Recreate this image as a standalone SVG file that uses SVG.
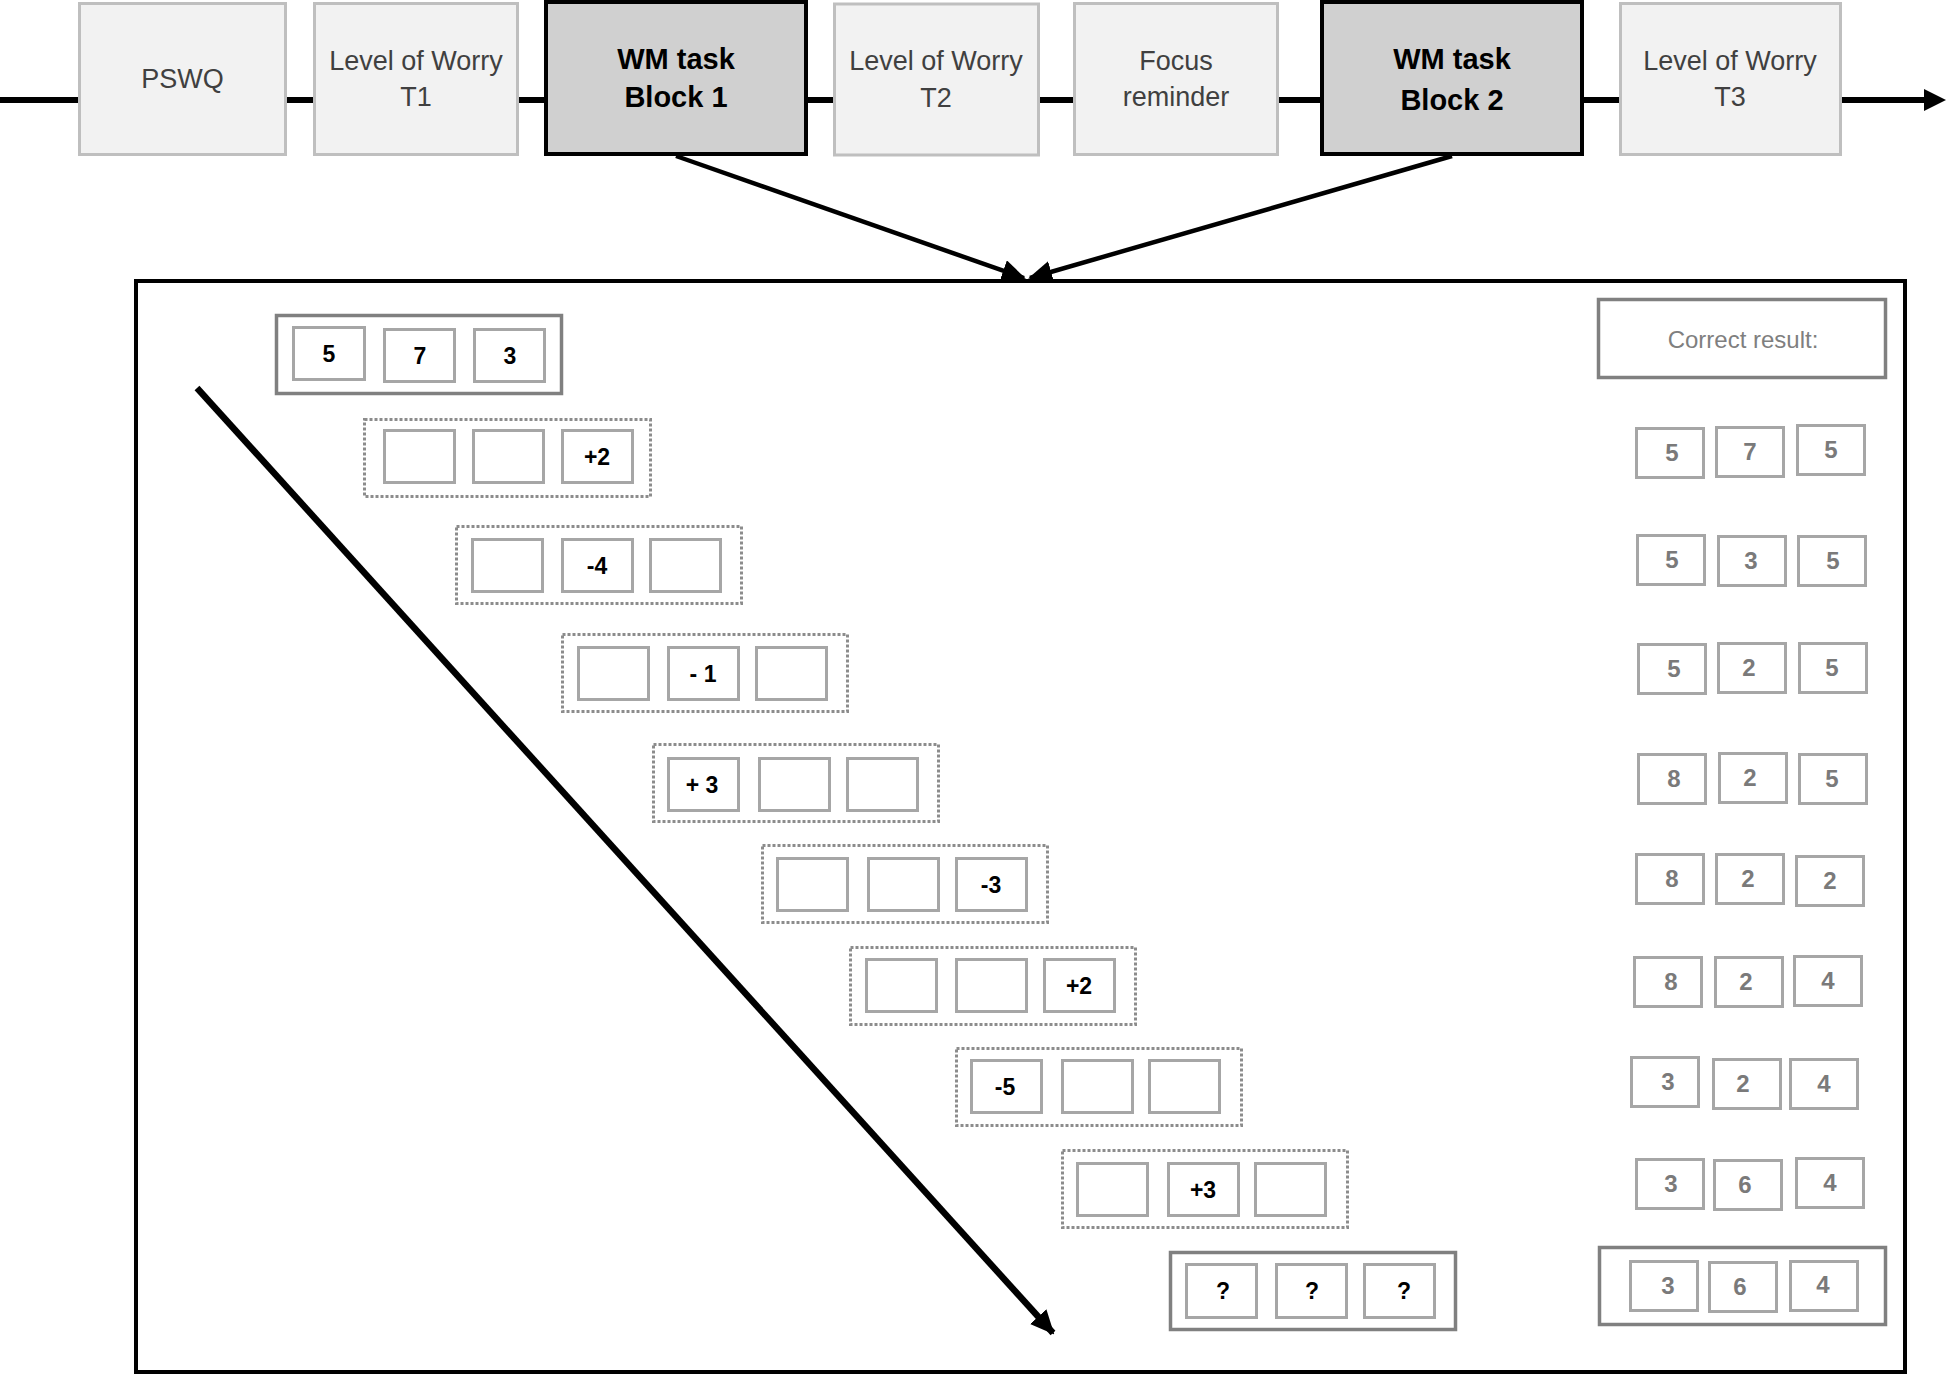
<svg xmlns="http://www.w3.org/2000/svg" width="1946" height="1375" viewBox="0 0 1946 1375">
<defs>
<style>
.tb{fill:#f2f2f2;stroke:#bfbfbf;stroke-width:3}
.wm{fill:#d0d0d0;stroke:#000;stroke-width:4}
.tt{font-family:"Liberation Sans",Arial,sans-serif;font-size:27px;fill:#404040;text-anchor:middle}
.wt{font-family:"Liberation Sans",Arial,sans-serif;font-size:29px;font-weight:bold;fill:#000;text-anchor:middle}
.in{fill:#fff;stroke:#a6a6a6;stroke-width:3}
.dot{fill:none;stroke:#8c8c8c;stroke-width:3;stroke-dasharray:3 2}
.sol{fill:none;stroke:#808080;stroke-width:3.5}
.lb{font-family:"Liberation Sans",Arial,sans-serif;font-size:23px;font-weight:bold;fill:#000;text-anchor:middle}
.rb{font-family:"Liberation Sans",Arial,sans-serif;font-size:24px;font-weight:bold;fill:#7a7a7a;text-anchor:middle}
.ct{font-family:"Liberation Sans",Arial,sans-serif;font-size:24px;fill:#7f7f7f;text-anchor:middle}
.ln{stroke:#000;fill:none}
</style>
<marker id="ah" markerUnits="userSpaceOnUse" markerWidth="24" markerHeight="22" refX="22" refY="11" orient="auto">
<path d="M0,0 L24,11 L0,22 z" fill="#000"/>
</marker>
</defs>

<g id="connectors">
<line class="ln" x1="0" y1="100" x2="1928" y2="100" stroke-width="6"/>
<polygon points="1924,89 1946,100 1924,111" fill="#000"/>
<line class="ln" x1="676" y1="156" x2="1024" y2="278" stroke-width="4.5" marker-end="url(#ah)"/>
<line class="ln" x1="1452" y1="156" x2="1030" y2="278" stroke-width="4.5" marker-end="url(#ah)"/>
<line class="ln" x1="197" y1="388" x2="1053" y2="1333" stroke-width="6.5" marker-end="url(#ah)"/>
</g>

<g id="pswq"><rect class="tb" x="79.5" y="3.5" width="206" height="151"/><text class="tt" x="182.5" y="88">PSWQ</text></g>
<g id="worry-t1"><rect class="tb" x="314.5" y="3.5" width="203" height="151"/><text class="tt" x="416" y="70">Level of Worry</text><text class="tt" x="416" y="106">T1</text></g>
<g id="wm-block1"><rect class="wm" x="546" y="2" width="260" height="152"/><text class="wt" x="676" y="69">WM task</text><text class="wt" x="676" y="107">Block 1</text></g>
<g id="worry-t2"><rect class="tb" x="834.5" y="4" width="204" height="151"/><text class="tt" x="936" y="70">Level of Worry</text><text class="tt" x="936" y="107">T2</text></g>
<g id="focus"><rect class="tb" x="1074.5" y="3.5" width="203" height="151"/><text class="tt" x="1176" y="70">Focus</text><text class="tt" x="1176" y="106">reminder</text></g>
<g id="wm-block2"><rect class="wm" x="1322" y="2" width="260" height="152"/><text class="wt" x="1452" y="69">WM task</text><text class="wt" x="1452" y="110">Block 2</text></g>
<g id="worry-t3"><rect class="tb" x="1620.5" y="3.5" width="220" height="151"/><text class="tt" x="1730" y="70">Level of Worry</text><text class="tt" x="1730" y="106">T3</text></g>

<g id="panel"><rect x="136" y="281" width="1769" height="1091" fill="none" stroke="#000" stroke-width="4"/></g>

<g id="row0">
<rect class="sol" x="276.5" y="315.5" width="285" height="78"/>
<rect class="in" x="293.5" y="327.5" width="71" height="52"/><text class="lb" x="329" y="362">5</text>
<rect class="in" x="384.5" y="329.5" width="70" height="52"/><text class="lb" x="420" y="364">7</text>
<rect class="in" x="474.5" y="329.5" width="70" height="52"/><text class="lb" x="510" y="364">3</text>
</g>
<g id="row1">
<rect class="dot" x="364.5" y="419.5" width="286" height="77"/>
<rect class="in" x="384.5" y="430.5" width="70" height="52"/>
<rect class="in" x="473.5" y="430.5" width="70" height="52"/>
<rect class="in" x="562.5" y="430.5" width="70" height="52"/><text class="lb" x="597" y="465">+2</text>
</g>
<g id="row2">
<rect class="dot" x="456.5" y="526.5" width="285" height="77"/>
<rect class="in" x="472.5" y="539.5" width="70" height="52"/>
<rect class="in" x="562.5" y="539.5" width="70" height="52"/><text class="lb" x="597" y="574">-4</text>
<rect class="in" x="650.5" y="539.5" width="70" height="52"/>
</g>
<g id="row3">
<rect class="dot" x="562.5" y="634.5" width="285" height="77"/>
<rect class="in" x="578.5" y="647.5" width="70" height="52"/>
<rect class="in" x="668.5" y="647.5" width="70" height="52"/><text class="lb" x="703" y="682">- 1</text>
<rect class="in" x="756.5" y="647.5" width="70" height="52"/>
</g>
<g id="row4">
<rect class="dot" x="653.5" y="744.5" width="285" height="77"/>
<rect class="in" x="668.5" y="758.5" width="70" height="52"/><text class="lb" x="702" y="793">+ 3</text>
<rect class="in" x="759.5" y="758.5" width="70" height="52"/>
<rect class="in" x="847.5" y="758.5" width="70" height="52"/>
</g>
<g id="row5">
<rect class="dot" x="762.5" y="845.5" width="285" height="77"/>
<rect class="in" x="777.5" y="858.5" width="70" height="52"/>
<rect class="in" x="868.5" y="858.5" width="70" height="52"/>
<rect class="in" x="956.5" y="858.5" width="70" height="52"/><text class="lb" x="991" y="893">-3</text>
</g>
<g id="row6">
<rect class="dot" x="850.5" y="947.5" width="285" height="77"/>
<rect class="in" x="866.5" y="959.5" width="70" height="52"/>
<rect class="in" x="956.5" y="959.5" width="70" height="52"/>
<rect class="in" x="1044.5" y="959.5" width="70" height="52"/><text class="lb" x="1079" y="994">+2</text>
</g>
<g id="row7">
<rect class="dot" x="956.5" y="1048.5" width="285" height="77"/>
<rect class="in" x="971.5" y="1060.5" width="70" height="52"/><text class="lb" x="1005" y="1095">-5</text>
<rect class="in" x="1062.5" y="1060.5" width="70" height="52"/>
<rect class="in" x="1149.5" y="1060.5" width="70" height="52"/>
</g>
<g id="row8">
<rect class="dot" x="1062.5" y="1150.5" width="285" height="77"/>
<rect class="in" x="1077.5" y="1163.5" width="70" height="52"/>
<rect class="in" x="1168.5" y="1163.5" width="70" height="52"/><text class="lb" x="1203" y="1198">+3</text>
<rect class="in" x="1255.5" y="1163.5" width="70" height="52"/>
</g>
<g id="row9">
<rect class="sol" x="1170.5" y="1252.5" width="285" height="77"/>
<rect class="in" x="1186.5" y="1264.5" width="70" height="53"/><text class="lb" x="1223" y="1299">?</text>
<rect class="in" x="1276.5" y="1264.5" width="70" height="53"/><text class="lb" x="1312" y="1299">?</text>
<rect class="in" x="1364.5" y="1264.5" width="70" height="53"/><text class="lb" x="1404" y="1299">?</text>
</g>

<g id="correct-result"><rect class="sol" x="1598.5" y="299.5" width="287" height="78"/><text class="ct" x="1743" y="348">Correct result:</text></g>

<g id="res1">
<rect class="in" x="1636.5" y="428.5" width="67" height="49"/><text class="rb" x="1672" y="461">5</text>
<rect class="in" x="1716.5" y="427.5" width="67" height="49"/><text class="rb" x="1750" y="460">7</text>
<rect class="in" x="1797.5" y="425.5" width="67" height="49"/><text class="rb" x="1831" y="458">5</text>
</g>
<g id="res2">
<rect class="in" x="1637.5" y="535.5" width="67" height="49"/><text class="rb" x="1672" y="568">5</text>
<rect class="in" x="1718.5" y="536.5" width="67" height="49"/><text class="rb" x="1751" y="569">3</text>
<rect class="in" x="1798.5" y="536.5" width="67" height="49"/><text class="rb" x="1833" y="569">5</text>
</g>
<g id="res3">
<rect class="in" x="1638.5" y="644.5" width="67" height="49"/><text class="rb" x="1674" y="677">5</text>
<rect class="in" x="1718.5" y="643.5" width="67" height="49"/><text class="rb" x="1749" y="676">2</text>
<rect class="in" x="1799.5" y="643.5" width="67" height="49"/><text class="rb" x="1832" y="676">5</text>
</g>
<g id="res4">
<rect class="in" x="1638.5" y="754.5" width="67" height="49"/><text class="rb" x="1674" y="787">8</text>
<rect class="in" x="1719.5" y="753.5" width="67" height="49"/><text class="rb" x="1750" y="786">2</text>
<rect class="in" x="1799.5" y="754.5" width="67" height="49"/><text class="rb" x="1832" y="787">5</text>
</g>
<g id="res5">
<rect class="in" x="1636.5" y="854.5" width="67" height="49"/><text class="rb" x="1672" y="887">8</text>
<rect class="in" x="1716.5" y="854.5" width="67" height="49"/><text class="rb" x="1748" y="887">2</text>
<rect class="in" x="1796.5" y="856.5" width="67" height="49"/><text class="rb" x="1830" y="889">2</text>
</g>
<g id="res6">
<rect class="in" x="1634.5" y="957.5" width="67" height="49"/><text class="rb" x="1671" y="990">8</text>
<rect class="in" x="1715.5" y="957.5" width="67" height="49"/><text class="rb" x="1746" y="990">2</text>
<rect class="in" x="1794.5" y="956.5" width="67" height="49"/><text class="rb" x="1828" y="989">4</text>
</g>
<g id="res7">
<rect class="in" x="1631.5" y="1057.5" width="67" height="49"/><text class="rb" x="1668" y="1090">3</text>
<rect class="in" x="1713.5" y="1059.5" width="67" height="49"/><text class="rb" x="1743" y="1092">2</text>
<rect class="in" x="1790.5" y="1059.5" width="67" height="49"/><text class="rb" x="1824" y="1092">4</text>
</g>
<g id="res8">
<rect class="in" x="1636.5" y="1159.5" width="67" height="49"/><text class="rb" x="1671" y="1192">3</text>
<rect class="in" x="1714.5" y="1160.5" width="67" height="49"/><text class="rb" x="1745" y="1193">6</text>
<rect class="in" x="1796.5" y="1158.5" width="67" height="49"/><text class="rb" x="1830" y="1191">4</text>
</g>
<g id="res9">
<rect class="sol" x="1599.5" y="1247.5" width="286" height="77"/>
<rect class="in" x="1630.5" y="1261.5" width="67" height="49"/><text class="rb" x="1668" y="1294">3</text>
<rect class="in" x="1709.5" y="1262.5" width="67" height="49"/><text class="rb" x="1740" y="1295">6</text>
<rect class="in" x="1790.5" y="1261.5" width="67" height="49"/><text class="rb" x="1823" y="1293">4</text>
</g>
</svg>
